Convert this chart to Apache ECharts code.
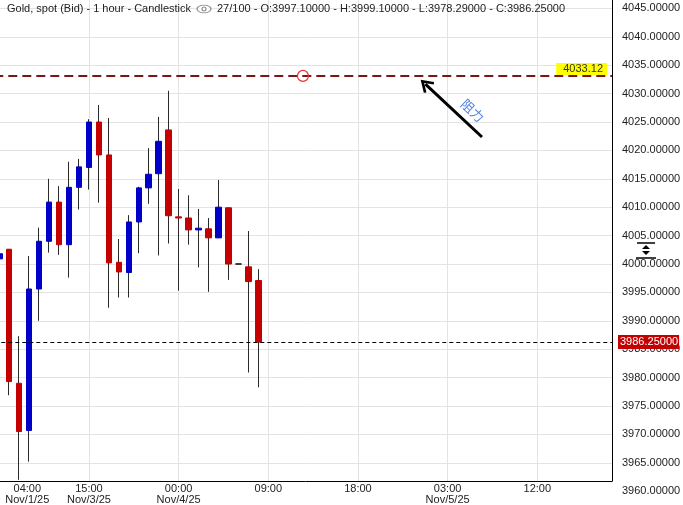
<!DOCTYPE html>
<html>
<head>
<meta charset="utf-8">
<script src="https://cdn.jsdelivr.net/npm/echarts@6/dist/echarts.min.js"></script>
<style>
html, body { margin: 0; padding: 0; background: #fff; }
#main { width: 683px; height: 505px; }
</style>
</head>
<body>
<div id="main"></div>
<script>
// 1 hour candles, Gold spot (Bid)
const opens  = [4000.9, 4002.6, 3979.0, 3970.7, 3995.6, 4004.0, 4010.9, 4003.4, 4013.5, 4017.0, 4025.0, 4019.2, 4000.3, 3998.5,
                4007.4, 4013.4, 4015.9, 4023.6, 4008.3, 4008.1, 4006.0, 4006.2, 4004.6, 4009.9, 4000.0, 3999.5, 3997.1]
const closes = [4001.8, 3979.3, 3970.5, 3995.6, 4004.0, 4010.9, 4003.4, 4013.5, 4017.1, 4025.0, 4019.2, 4000.2, 3998.6, 4007.4,
                4013.4, 4015.8, 4021.6, 4008.5, 4008.1, 4006.0, 4006.3, 4004.6, 4010.0, 4000.0, 4000.0, 3996.9, 3986.25]
const lows   = [4000.5, 3976.9, 3962.0, 3965.2, 3990.0, 4002.0, 4001.6, 3997.6, 4009.6, 4013.1, 4010.8, 3992.3, 3994.1, 3994.1,
                4001.9, 4010.6, 4001.5, 4003.6, 3995.3, 4003.4, 3999.4, 3995.1, 4004.6, 3997.2, 4000.0, 3980.9, 3978.29]
const highs  = [4002.3, 4002.6, 3987.3, 4001.4, 4006.4, 4015.0, 4013.7, 4018.0, 4018.5, 4025.5, 4028.0, 4025.7, 4004.4, 4008.6,
                4013.6, 4020.4, 4025.9, 4030.5, 4013.2, 4012.1, 4009.7, 4008.1, 4014.8, 4010.0, 4000.0, 4005.8, 3999.1]

// x tick labels (category index -> text)
const tickIndex = [0, 9, 18, 27, 36, 45, 54]
const tickText = ['04:00\nNov/1/25', '15:00\nNov/3/25', '00:00\nNov/4/25', '09:00', '18:00', '03:00\nNov/5/25', '12:00']

const resistance = 4033.12
const lastPrice = 3986.25
// red circle + arrow (category index, price)
const circlePt = [30.48, 4033.12]
const arrowTip = [42.77, 4031.67]
const arrowTail = [48.45, 4022.36]

// categories: last Friday candle, then hourly from Monday open
const pad = n => (n < 10 ? '0' : '') + n
const hours = ['11/1 04:00']
for (let i = 0; i < 61; i++) {
    let d = new Date(Date.UTC(2025, 10, 3, 7 + i))
    hours.push((d.getUTCMonth() + 1) + '/' + d.getUTCDate() + ' ' + pad(d.getUTCHours()) + ':00')
}

const wickData = opens.map((o, i) => [o, closes[i], lows[i], highs[i]])
const bodyData = opens.map((o, i) => [o, closes[i], Math.min(o, closes[i]), Math.max(o, closes[i])])

// pixel layout of the price scale
const yTop = 8.4, yBot = 491.2, axisY = 481
const unitPx = (yBot - yTop) / 85
const mainMin = 3960 + (yBot - axisY) / unitPx
const mainMax = 4045 + yTop / unitPx

const font = 'Liberation Sans, Arial, Noto Sans CJK SC, sans-serif'
const up = '#0000c8', down = '#c40000'

let splitColors = ['rgba(0,0,0,0)']
for (let i = 0; i < 17; i++) splitColors.push('#e3e3e3')

const chevron = 'path://M5,0 L10,8 L8.6,9.2 L5,3.4 L1.4,9.2 L0,8 Z'

const chart = echarts.init(document.getElementById('main'))
let option = {
    animation: false,
    backgroundColor: '#fff',
    textStyle: { fontFamily: font },
    grid: [
        { left: -5.7, right: 71, top: 0, bottom: 505 - axisY, outerBoundsMode: 'none', containLabel: false },
        { left: -5.7, right: 71, top: yTop, bottom: 505 - yBot, outerBoundsMode: 'none', containLabel: false }
    ],
    xAxis: [
        {
            type: 'category',
            gridIndex: 0,
            data: hours,
            boundaryGap: true,
            axisLine: { lineStyle: { color: '#000', width: 1 } },
            axisTick: { show: false },
            axisLabel: {
                interval: (i) => tickIndex.indexOf(i) >= 0,
                margin: 2,
                color: '#222',
                fontSize: 11,
                lineHeight: 11,
                fontFamily: font,
                formatter: function (val, i) {
                    let k = tickIndex.indexOf(i)
                    if (k === 0) {
                        return tickText[0].split('\n').map(s => '{f|' + s + '}').join('\n')
                    }
                    return k >= 0 ? tickText[k] : ''
                },
                rich: {
                    f: { padding: [0, 0, 0, 56], fontSize: 11, lineHeight: 11, color: '#222', fontFamily: font }
                }
            },
            splitLine: {
                show: true,
                interval: (i) => i % 9 === 0,
                alignWithLabel: true,
                lineStyle: { color: '#e3e3e3', width: 1 }
            }
        },
        {
            type: 'value',
            gridIndex: 1,
            min: -0.5,
            max: 61.5,
            show: false
        }
    ],
    yAxis: [
        {
            type: 'value',
            gridIndex: 0,
            position: 'right',
            min: mainMin,
            max: mainMax,
            axisLine: { show: true, lineStyle: { color: '#000', width: 1 } },
            axisTick: { show: false },
            axisLabel: { show: false },
            splitLine: { show: false }
        },
        {
            type: 'value',
            gridIndex: 1,
            position: 'right',
            min: 3960,
            max: 4045,
            interval: 5,
            axisLine: { show: false },
            axisTick: { show: false },
            axisLabel: {
                margin: 10,
                color: '#222',
                fontSize: 11,
                fontFamily: font,
                formatter: v => v.toFixed(5)
            },
            splitLine: { show: true, lineStyle: { color: splitColors, width: 1 } }
        }
    ],
    series: [
        {
            // wicks
            type: 'candlestick',
            xAxisIndex: 0,
            yAxisIndex: 0,
            barWidth: 1,
            data: wickData,
            itemStyle: {
                color: '#2a2a2a', color0: '#2a2a2a',
                borderColor: '#2a2a2a', borderColor0: '#2a2a2a', borderColorDoji: '#2a2a2a',
                borderWidth: 1
            },
            silent: true
        },
        {
            // bodies
            type: 'candlestick',
            xAxisIndex: 0,
            yAxisIndex: 0,
            barWidth: 6,
            data: bodyData,
            itemStyle: {
                color: up, color0: down,
                borderColor: up, borderColor0: down, borderColorDoji: '#000',
                borderWidth: 1
            },
            silent: true
        },
        {
            // annotations on the price scale
            type: 'line',
            xAxisIndex: 1,
            yAxisIndex: 1,
            data: [],
            silent: true,
            markLine: {
                silent: true,
                symbol: 'none',
                data: [
                    {
                        yAxis: lastPrice,
                        lineStyle: { color: '#000', type: [4, 3], width: 1 },
                        label: {
                            show: true,
                            position: 'end',
                            distance: 6,
                            formatter: lastPrice.toFixed(5),
                            color: '#fff',
                            fontSize: 11,
                            fontFamily: font,
                            backgroundColor: '#c40000',
                            padding: [2, 1, 1, 2]
                        }
                    },
                    {
                        yAxis: resistance,
                        lineStyle: { color: '#7a1616', type: [9, 5], width: 2 },
                        label: {
                            show: true,
                            position: 'insideEndTop',
                            distance: [5, 1],
                            formatter: resistance.toFixed(2),
                            color: '#333',
                            fontSize: 11,
                            fontFamily: font,
                            backgroundColor: '#ffff00',
                            padding: [1, 4, 0, 7]
                        }
                    },
                    {
                        yAxis: resistance,
                        lineStyle: { opacity: 0 },
                        label: {
                            show: true,
                            position: 'insideEndBottom',
                            distance: [7, 6],
                            formatter: '阻力',
                            color: '#4a7de6',
                            fontSize: 13,
                            fontFamily: font
                        }
                    },
                    [
                        {
                            coord: arrowTip,
                            symbol: chevron,
                            symbolSize: [15, 13],
                            lineStyle: { color: '#000', type: 'solid', width: 3 },
                            label: {
                                show: true,
                                position: 'insideEndTop',
                                distance: [12, 5],
                                formatter: '阻力',
                                color: '#4a7de6',
                                fontSize: 13,
                                fontFamily: font
                            }
                        },
                        { coord: arrowTail, symbol: 'none' }
                    ]
                ]
            },
            markPoint: {
                silent: true,
                symbol: 'circle',
                symbolSize: 11,
                itemStyle: { color: 'rgba(0,0,0,0)', borderColor: '#f03030', borderWidth: 1.2 },
                label: { show: false },
                data: [{ coord: circlePt }]
            }
        }
    ],
    graphic: [
        {
            type: 'text', left: 7, top: 3, z: 10,
            style: { text: 'Gold, spot (Bid) - 1 hour - Candlestick', fill: '#222', font: '11px ' + font }
        },
        {
            type: 'circle', x: 204, y: 9, scaleY: 0.55, z: 10,
            shape: { cx: 0, cy: 0, r: 7 },
            style: { fill: '#fff', stroke: '#888', lineWidth: 1.2 }
        },
        {
            type: 'circle', x: 204, y: 9, z: 10,
            shape: { cx: 0, cy: 0, r: 2 },
            style: { fill: 'none', stroke: '#888', lineWidth: 1.2 }
        },
        {
            type: 'text', left: 217, top: 3, z: 10,
            style: { text: '27/100 - O:3997.10000 - H:3999.10000 - L:3978.29000 - C:3986.25000', fill: '#222', font: '11px ' + font }
        },
        // scale handle on the price axis
        {
            type: 'group', x: 646, y: 250, z: 10,
            children: [
                { type: 'line', shape: { x1: -9, y1: -7, x2: 9, y2: -7 }, style: { stroke: '#000', lineWidth: 1.5 } },
                { type: 'polygon', shape: { points: [[-4, -1], [4, -1], [0, -5]] }, style: { fill: '#000' } },
                { type: 'polygon', shape: { points: [[-4, 1], [4, 1], [0, 5]] }, style: { fill: '#000' } },
                { type: 'line', shape: { x1: -10, y1: 8, x2: 10, y2: 8 }, style: { stroke: '#000', lineWidth: 1.5 } }
            ]
        }
    ]
}
chart.setOption(option, true)
</script>
</body>
</html>
